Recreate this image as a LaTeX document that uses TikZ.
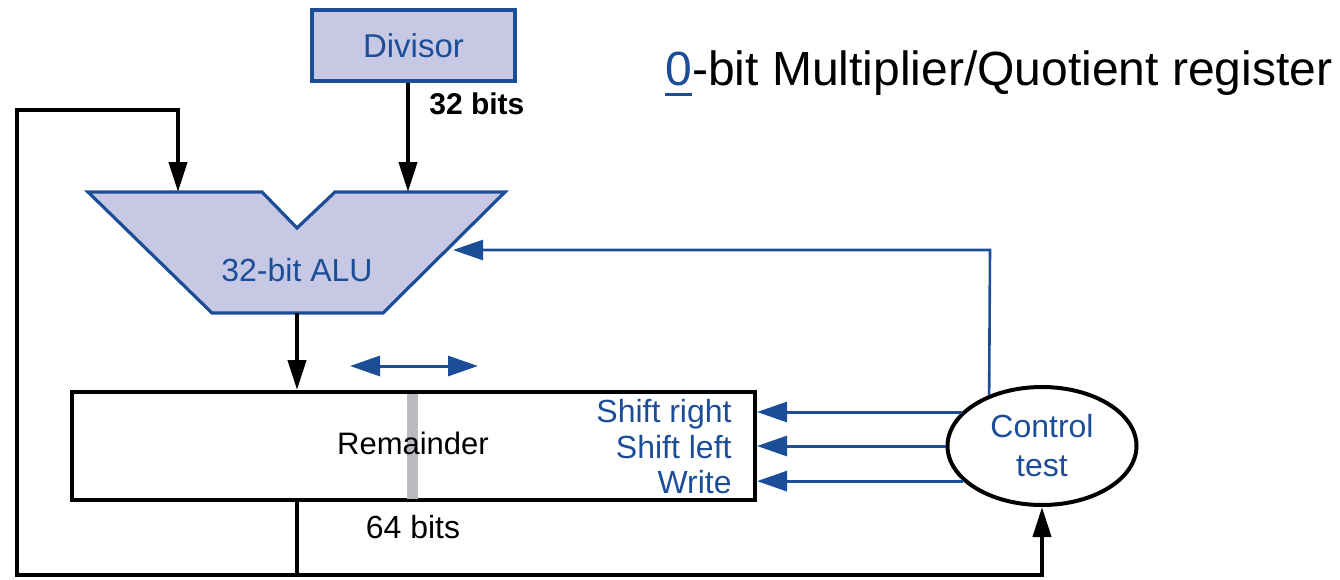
\documentclass[tikz,border=0pt]{standalone}
\usepackage{fontspec}
\setmainfont{Liberation Sans}
\usetikzlibrary{arrows.meta,shapes.geometric}
\definecolor{blu}{RGB}{28,78,152}
\definecolor{lav}{RGB}{199,201,228}
\definecolor{bargray}{RGB}{186,186,192}
\newcommand\blueulzero{\textcolor{blu}{\setbox0\hbox{0}\rlap{\rule[-5.5pt]{\wd0}{1.5pt}}\box0}}
\tikzset{
  blk/.style={line width=2.1pt,draw=black,-{Triangle[length=15pt,width=9pt]}},
  bline/.style={line width=1.5pt,draw=blu,-{Triangle[length=15pt,width=10pt]}},
  unitbox/.style={draw=blu,fill=lav,line width=1.6pt},
  bluetext/.style={text=blu,font=\fontsize{16}{19.5}\selectfont,inner sep=0pt},
  blacktext/.style={text=black,font=\fontsize{16}{19.5}\selectfont,inner sep=0pt}
}
\begin{document}
\begin{tikzpicture}[x=0.5pt,y=-0.5pt]
\useasboundingbox (0,0) rectangle (1340,579);

% title
\node[anchor=base west,inner sep=0pt,font=\fontsize{24}{28}\selectfont] (title) at (665,85)
  {\blueulzero-bit Multiplier/Quotient register};

% divisor register
\node[unitbox,minimum width=101.5pt,minimum height=35.5pt,inner sep=0pt,
      text=blu,font=\fontsize{16.5}{19}\selectfont] (div) at (413.5,45.5) {Divisor};

% ALU outline with its notch
\coordinate (aluL) at (178,192);
\coordinate (aluR) at (408,192);
\coordinate (aluO) at (297,313);
\coordinate (aluC) at (453,250);
\filldraw[unitbox,line join=miter] (88,192) -- (262,192) -- (297,228) -- (335,192)
  -- (505,192) -- (383,313) -- (212,313) -- cycle;
\node[bluetext] (alu) at (297,270) {32-bit ALU};

% remainder register
\node[draw,line width=2pt,minimum width=341.5pt,minimum height=54pt,inner sep=0pt] (rem) at (413.5,446) {};
\fill[bargray] (407,394) rectangle (418,499);
\node[blacktext,font=\fontsize{15.5}{19}\selectfont] (remlbl) at (413,443) {Remainder};
\node[blacktext] (rembits) at (413,527) {64 bits};
\node[bluetext,anchor=east] (shr) at (732,414) {Shift right};
\node[bluetext,anchor=east] (shl) at (732,447) {Shift left};
\node[bluetext,anchor=east] (wr) at (732,482) {Write};

% shift direction arrow
\coordinate (sl) at (350,366);
\coordinate (sr) at (478,366);
\draw[line width=1.5pt,draw=blu,{Triangle[length=15pt,width=10pt]}-{Triangle[length=15pt,width=10pt]}] (sl) -- (sr);

% control unit
\node[draw,ellipse,line width=2pt,minimum width=94.5pt,minimum height=59pt,inner sep=0pt,
      bluetext,align=center] (ctl) at (1042,446) {Control\\test};

% datapath connectors
\node[anchor=west,inner sep=0pt,font=\bfseries\fontsize{15}{18}\selectfont] (divbits) at (429,104) {32 bits};
\draw[blk] (div.south -| aluR) -- (aluR);
\draw[blk] (aluO) -- (rem.north -| aluO);
\coordinate (fb) at (297,575);
\coordinate (lb) at (17,575);
\coordinate (lt) at (17,110);
\draw[blk,line join=miter] (rem.south -| fb) -- (fb) -- (lb) -- (lt) -| (aluL);
\draw[blk,line join=miter] (fb) -| (ctl.south);

% control signals
\coordinate (cturn) at (990,250);
\draw[bline,line width=1.3pt] (ctl.136.7) -- (cturn) -- (aluC);
\draw[bline] (ctl.157.15) -- (ctl.157.15 -| rem.east);
\draw[bline] (ctl.west) -- (rem.east);
\draw[bline] (ctl.204.7) -- (ctl.204.7 -| rem.east);
\end{tikzpicture}
\end{document}
